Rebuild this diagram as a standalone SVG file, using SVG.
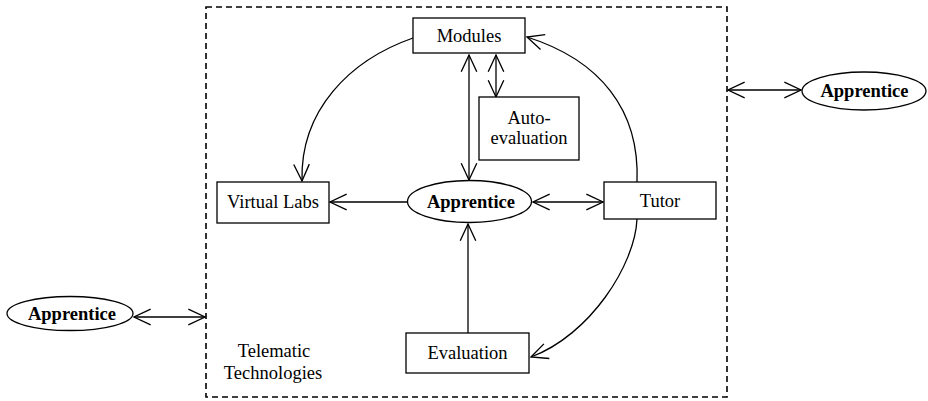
<svg xmlns="http://www.w3.org/2000/svg" width="928" height="401" viewBox="0 0 928 401">
<defs>
<marker id="ah" markerUnits="userSpaceOnUse" markerWidth="20" markerHeight="20" viewBox="-16 -8 18 16" refX="0" refY="0" orient="auto-start-reverse">
<path d="M-15,-7 L0,0 L-15,7" fill="none" stroke="#000" stroke-width="1.2"/>
</marker>
</defs>
<style>
.box{fill:#fff;stroke:#000;stroke-width:1.3}
.t{font-size:18.5px;fill:#000;text-anchor:middle}
.b{font-weight:bold}
.c{fill:none;stroke:#000;stroke-width:1.3}
.frame{fill:none;stroke:#000;stroke-width:1.6;stroke-dasharray:6 4}
</style>
<rect width="928" height="401" fill="#fff"/>
<rect class="frame" x="206" y="7" width="521" height="390"/>
<g id="connectors">
<path class="c" d="M469,55 L469,180" marker-start="url(#ah)" marker-end="url(#ah)"/>
<path class="c" d="M496,55 L496,97" marker-start="url(#ah)" marker-end="url(#ah)"/>
<path class="c" d="M407,202 L330,202" marker-end="url(#ah)"/>
<path class="c" d="M533,202 L603,202" marker-start="url(#ah)" marker-end="url(#ah)"/>
<path class="c" d="M468,333 L468,224" marker-end="url(#ah)"/>
<path class="c" d="M413,38 C350,60 300,110 302,181" marker-end="url(#ah)"/>
<path class="c" d="M637,182 C640,110 600,60 527,37" marker-end="url(#ah)"/>
<path class="c" d="M637,219 C635,265 590,335 531,357" marker-end="url(#ah)"/>
<path class="c" d="M728,90 L801,90" marker-start="url(#ah)" marker-end="url(#ah)"/>
<path class="c" d="M134,317 L205,317" marker-start="url(#ah)" marker-end="url(#ah)"/>
</g>
<g font-family="'Liberation Serif', 'DejaVu Serif', serif">
<g id="modules"><rect class="box" x="413" y="18" width="112" height="35"/><text class="t" x="469" y="42">Modules</text></g>
<g id="autoevaluation"><rect class="box" x="479" y="97" width="100" height="63"/><text class="t" x="529" y="124">Auto-</text><text class="t" x="529" y="144">evaluation</text></g>
<g id="virtuallabs"><rect class="box" x="217" y="182" width="112" height="41"/><text class="t" x="273" y="208">Virtual Labs</text></g>
<g id="apprentice"><ellipse class="box" cx="469.5" cy="201.5" rx="62" ry="21"/><text class="t b" x="471" y="208">Apprentice</text></g>
<g id="tutor"><rect class="box" x="604" y="182" width="112" height="37"/><text class="t" x="660" y="207">Tutor</text></g>
<g id="evaluation"><rect class="box" x="406" y="333" width="123" height="40"/><text class="t" x="467.5" y="359">Evaluation</text></g>
<g id="apprentice-right"><ellipse class="box" cx="864" cy="91" rx="62" ry="19"/><text class="t b" x="864.5" y="97">Apprentice</text></g>
<g id="apprentice-left"><ellipse class="box" cx="70" cy="313.5" rx="63" ry="17"/><text class="t b" x="72" y="320">Apprentice</text></g>
<g id="label"><text class="t" x="274" y="357">Telematic</text><text class="t" x="273" y="379">Technologies</text></g>
</g>
</svg>
